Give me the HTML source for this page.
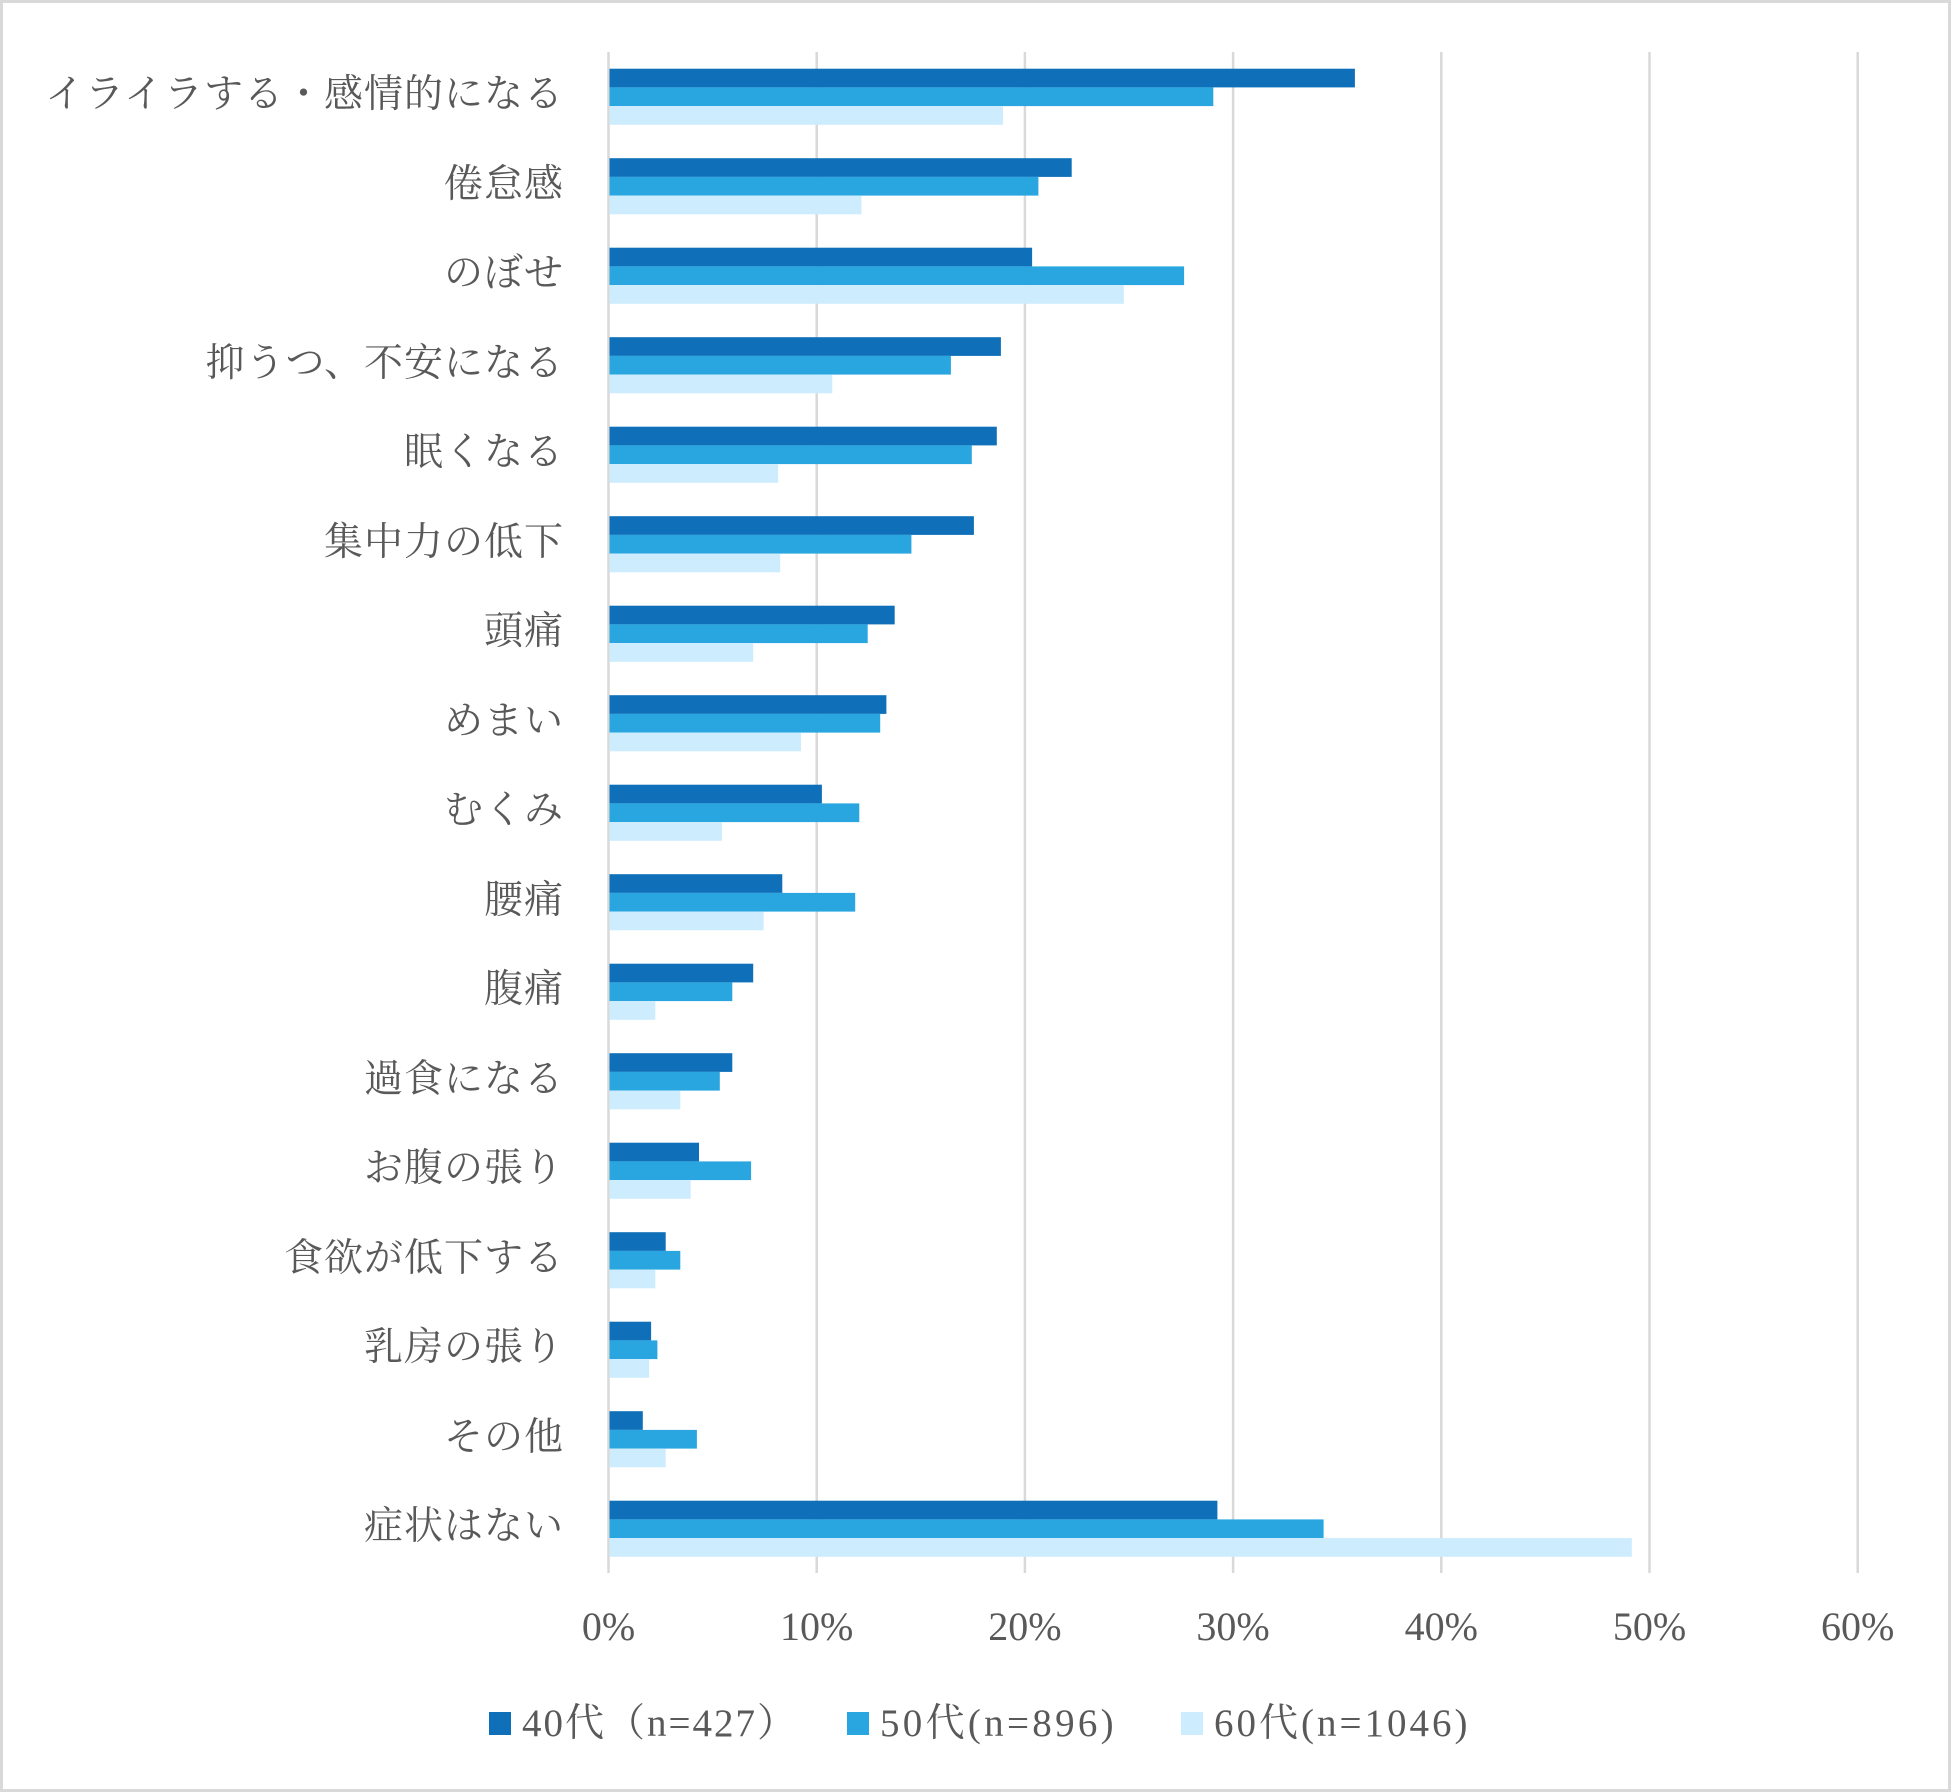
<!DOCTYPE html>
<html><head><meta charset="utf-8"><style>
html,body{margin:0;padding:0;background:#fff}
svg{display:block}
text{font-family:"Liberation Serif","Noto Serif CJK SC",serif;fill:#595959}
</style></head><body>
<svg width="1951" height="1792" viewBox="0 0 1951 1792" xmlns="http://www.w3.org/2000/svg">
<rect x="1.5" y="1.5" width="1948" height="1789" fill="#fff" stroke="#d9d9d9" stroke-width="3"/>
<g stroke="#d9d9d9" stroke-width="2.5">
<line x1="608.5" y1="52" x2="608.5" y2="1573"/>
<line x1="816.7" y1="52" x2="816.7" y2="1573"/>
<line x1="1024.9" y1="52" x2="1024.9" y2="1573"/>
<line x1="1233.1" y1="52" x2="1233.1" y2="1573"/>
<line x1="1441.3" y1="52" x2="1441.3" y2="1573"/>
<line x1="1649.5" y1="52" x2="1649.5" y2="1573"/>
<line x1="1857.7" y1="52" x2="1857.7" y2="1573"/>
</g>
<g transform="translate(609.5,0)">
<rect y="68.7" width="745.4" height="18.7" fill="#0f6fb8"/><rect y="87.4" width="603.8" height="18.7" fill="#29a6e0"/><rect y="106.1" width="393.5" height="18.7" fill="#cdecfd"/>
<rect y="158.2" width="462.2" height="18.7" fill="#0f6fb8"/><rect y="176.9" width="428.9" height="18.7" fill="#29a6e0"/><rect y="195.6" width="251.9" height="18.7" fill="#cdecfd"/>
<rect y="247.7" width="422.6" height="18.7" fill="#0f6fb8"/><rect y="266.4" width="574.6" height="18.7" fill="#29a6e0"/><rect y="285.1" width="514.3" height="18.7" fill="#cdecfd"/>
<rect y="337.2" width="391.4" height="18.7" fill="#0f6fb8"/><rect y="355.9" width="341.4" height="18.7" fill="#29a6e0"/><rect y="374.6" width="222.8" height="18.7" fill="#cdecfd"/>
<rect y="426.7" width="387.3" height="18.7" fill="#0f6fb8"/><rect y="445.4" width="362.3" height="18.7" fill="#29a6e0"/><rect y="464.1" width="168.6" height="18.7" fill="#cdecfd"/>
<rect y="516.2" width="364.4" height="18.7" fill="#0f6fb8"/><rect y="534.9" width="301.9" height="18.7" fill="#29a6e0"/><rect y="553.6" width="170.7" height="18.7" fill="#cdecfd"/>
<rect y="605.7" width="285.2" height="18.7" fill="#0f6fb8"/><rect y="624.4" width="258.2" height="18.7" fill="#29a6e0"/><rect y="643.1" width="143.7" height="18.7" fill="#cdecfd"/>
<rect y="695.2" width="276.9" height="18.7" fill="#0f6fb8"/><rect y="713.9" width="270.7" height="18.7" fill="#29a6e0"/><rect y="732.6" width="191.5" height="18.7" fill="#cdecfd"/>
<rect y="784.7" width="212.4" height="18.7" fill="#0f6fb8"/><rect y="803.4" width="249.8" height="18.7" fill="#29a6e0"/><rect y="822.1" width="112.4" height="18.7" fill="#cdecfd"/>
<rect y="874.2" width="172.8" height="18.7" fill="#0f6fb8"/><rect y="892.9" width="245.7" height="18.7" fill="#29a6e0"/><rect y="911.6" width="154.1" height="18.7" fill="#cdecfd"/>
<rect y="963.7" width="143.7" height="18.7" fill="#0f6fb8"/><rect y="982.4" width="122.8" height="18.7" fill="#29a6e0"/><rect y="1001.1" width="45.8" height="18.7" fill="#cdecfd"/>
<rect y="1053.2" width="122.8" height="18.7" fill="#0f6fb8"/><rect y="1071.9" width="110.3" height="18.7" fill="#29a6e0"/><rect y="1090.6" width="70.8" height="18.7" fill="#cdecfd"/>
<rect y="1142.7" width="89.5" height="18.7" fill="#0f6fb8"/><rect y="1161.4" width="141.6" height="18.7" fill="#29a6e0"/><rect y="1180.1" width="81.2" height="18.7" fill="#cdecfd"/>
<rect y="1232.2" width="56.2" height="18.7" fill="#0f6fb8"/><rect y="1250.9" width="70.8" height="18.7" fill="#29a6e0"/><rect y="1269.6" width="45.8" height="18.7" fill="#cdecfd"/>
<rect y="1321.7" width="41.6" height="18.7" fill="#0f6fb8"/><rect y="1340.4" width="47.9" height="18.7" fill="#29a6e0"/><rect y="1359.1" width="39.6" height="18.7" fill="#cdecfd"/>
<rect y="1411.2" width="33.3" height="18.7" fill="#0f6fb8"/><rect y="1429.9" width="87.4" height="18.7" fill="#29a6e0"/><rect y="1448.6" width="56.2" height="18.7" fill="#cdecfd"/>
<rect y="1500.7" width="607.9" height="18.7" fill="#0f6fb8"/><rect y="1519.4" width="714.1" height="18.7" fill="#29a6e0"/><rect y="1538.1" width="1022.3" height="18.7" fill="#cdecfd"/>
</g>
<g font-size="39" text-anchor="end" letter-spacing="1">
<text x="564" y="107">イライラする・感情的になる</text>
<text x="564" y="197">倦怠感</text>
<text x="564" y="286">のぼせ</text>
<text x="564" y="376">抑うつ、不安になる</text>
<text x="564" y="465">眠くなる</text>
<text x="564" y="555">集中力の低下</text>
<text x="564" y="644">頭痛</text>
<text x="564" y="734">めまい</text>
<text x="564" y="823">むくみ</text>
<text x="564" y="913">腰痛</text>
<text x="564" y="1002">腹痛</text>
<text x="564" y="1092">過食になる</text>
<text x="564" y="1181">お腹の張り</text>
<text x="564" y="1271">食欲が低下する</text>
<text x="564" y="1360">乳房の張り</text>
<text x="564" y="1450">その他</text>
<text x="564" y="1539">症状はない</text>
</g>
<g font-size="40" text-anchor="middle">
<text x="608.5" y="1640">0%</text>
<text x="816.7" y="1640">10%</text>
<text x="1024.9" y="1640">20%</text>
<text x="1233.1" y="1640">30%</text>
<text x="1441.3" y="1640">40%</text>
<text x="1649.5" y="1640">50%</text>
<text x="1857.7" y="1640">60%</text>
</g>
<rect x="489" y="1712" width="22" height="23" fill="#0f6fb8"/>
<rect x="847" y="1712" width="22" height="23" fill="#29a6e0"/>
<rect x="1181" y="1712" width="22" height="23" fill="#cdecfd"/>
<g font-size="39">
<text x="522" y="1736" letter-spacing="2">40代（n=427）</text>
<text x="880" y="1736" letter-spacing="3.3">50代(n=896)</text>
<text x="1214" y="1736" letter-spacing="3">60代(n=1046)</text>
</g>
</svg>
</body></html>
